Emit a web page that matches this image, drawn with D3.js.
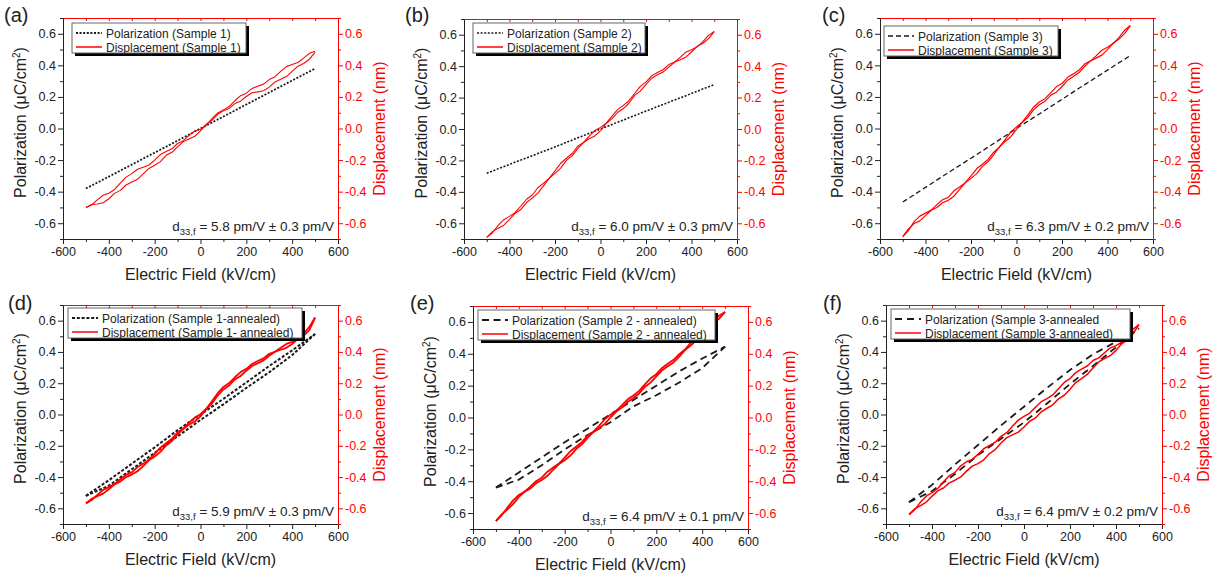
<!DOCTYPE html>
<html lang="en">
<head>
<meta charset="UTF-8">
<title>Polarization and displacement loops</title>
<script src="https://cdn.jsdelivr.net/npm/d3@7/dist/d3.min.js"></script>
<style>
body {margin:0; background:#fff;}
svg text {font-family: "Liberation Sans", Arial, sans-serif;}
</style>
</head>
<body>
<svg id="chart" width="1215" height="578"></svg>
<script>
// electric field sample points (kV/cm)
var fieldFine = [-500,-475,-450,-425,-400,-375,-350,-325,-300,-275,-250,-225,-200,-175,-150,-125,-100,-75,-50,-25,
                 0,25,50,75,100,125,150,175,200,225,250,275,300,325,350,375,400,425,450,475,500];
var fieldCoarse = [-500,-400,-300,-200,-100,0,100,200,300,400,500];

var xTicks = [-600,-400,-200,0,200,400,600];
var xMinor = [-500,-300,-100,100,300,500];
var yTicks = [-0.6,-0.4,-0.2,0.0,0.2,0.4,0.6];
var yMinor = [-0.7,-0.5,-0.3,-0.1,0.1,0.3,0.5,0.7];

var panelTags = ["(a)","(b)","(c)","(d)","(e)","(f)"];
var polLabels = ["Polarization (Sample 1)","Polarization (Sample 2)","Polarization (Sample 3)",
    "Polarization (Sample 1-annealed)","Polarization (Sample 2 - annealed)","Polarization (Sample 3-annealed"];
var dispLabels = ["Displacement (Sample 1)","Displacement (Sample 2)","Displacement (Sample 3)",
    "Displacement (Sample 1- annealed)","Displacement (Sample 2 - annealed)","Displacement (Sample 3-annealed)"];
var d33Values = ["5.8","6.0","6.3","5.9","6.4","6.4"];
var d33Errors = ["0.3","0.3","0.2","0.3","0.1","0.2"];

// displacement (nm) on fieldFine, rising and falling branch
var aDispUp   = [-0.500,-0.481,-0.478,-0.470,-0.445,-0.411,-0.392,-0.358,-0.339,-0.322,-0.288,-0.253,-0.233,-0.210,-0.170,-0.151,-0.116,-0.083,-0.066,-0.049,
                 -0.015,0.027,0.052,0.090,0.112,0.127,0.158,0.173,0.203,0.226,0.232,0.239,0.262,0.295,0.312,0.329,0.362,0.395,0.412,0.439,0.482];
var aDispDown = [-0.500,-0.484,-0.452,-0.423,-0.410,-0.386,-0.346,-0.308,-0.286,-0.258,-0.246,-0.231,-0.200,-0.165,-0.146,-0.129,-0.095,-0.077,-0.043,-0.016,
                 -0.005,0.021,0.062,0.098,0.118,0.139,0.176,0.208,0.224,0.254,0.268,0.281,0.310,0.328,0.362,0.392,0.405,0.418,0.446,0.476,0.490];
var bDispUp   = [-0.690,-0.653,-0.632,-0.612,-0.575,-0.536,-0.512,-0.468,-0.440,-0.408,-0.360,-0.313,-0.282,-0.249,-0.200,-0.171,-0.125,-0.086,-0.062,-0.044,
                 -0.010,0.035,0.064,0.105,0.130,0.164,0.214,0.241,0.284,0.323,0.345,0.362,0.394,0.425,0.440,0.457,0.490,0.526,0.546,0.575,0.620];
var bDispDown = [-0.690,-0.660,-0.614,-0.577,-0.556,-0.531,-0.490,-0.447,-0.420,-0.374,-0.344,-0.313,-0.266,-0.218,-0.186,-0.156,-0.110,-0.086,-0.046,-0.010,
                 0.010,0.037,0.080,0.123,0.150,0.180,0.226,0.271,0.300,0.338,0.360,0.377,0.410,0.425,0.456,0.489,0.505,0.523,0.556,0.596,0.620];
var cDispUp   = [-0.685,-0.636,-0.602,-0.585,-0.552,-0.518,-0.500,-0.470,-0.455,-0.429,-0.386,-0.343,-0.316,-0.286,-0.240,-0.211,-0.166,-0.116,-0.082,-0.052,
                 -0.006,0.040,0.070,0.118,0.150,0.172,0.210,0.230,0.266,0.306,0.330,0.354,0.394,0.428,0.446,0.465,0.500,0.541,0.566,0.601,0.652];
var cDispDown = [-0.685,-0.646,-0.590,-0.555,-0.536,-0.517,-0.482,-0.451,-0.436,-0.395,-0.370,-0.343,-0.300,-0.255,-0.226,-0.196,-0.150,-0.118,-0.070,-0.022,
                 0.010,0.040,0.086,0.135,0.168,0.189,0.226,0.264,0.285,0.324,0.346,0.370,0.410,0.427,0.460,0.496,0.515,0.538,0.576,0.622,0.652];
var dDispUp   = [-0.568,-0.539,-0.522,-0.506,-0.478,-0.447,-0.428,-0.400,-0.384,-0.363,-0.330,-0.293,-0.268,-0.239,-0.198,-0.169,-0.128,-0.091,-0.066,-0.045,
                 -0.012,0.035,0.070,0.121,0.160,0.186,0.224,0.246,0.280,0.310,0.328,0.346,0.376,0.401,0.414,0.426,0.450,0.483,0.504,0.540,0.620];
var dDispDown = [-0.568,-0.547,-0.514,-0.483,-0.464,-0.445,-0.414,-0.386,-0.370,-0.336,-0.314,-0.289,-0.252,-0.212,-0.184,-0.155,-0.114,-0.090,-0.054,-0.020,
                 0.002,0.037,0.084,0.136,0.176,0.201,0.238,0.271,0.292,0.323,0.342,0.359,0.388,0.401,0.426,0.451,0.464,0.484,0.516,0.560,0.620];
var eDispUp   = [-0.650,-0.608,-0.578,-0.544,-0.498,-0.466,-0.446,-0.413,-0.392,-0.366,-0.328,-0.292,-0.268,-0.239,-0.198,-0.169,-0.128,-0.092,-0.068,-0.040,
                 0.000,0.037,0.062,0.098,0.122,0.151,0.192,0.219,0.258,0.296,0.322,0.346,0.382,0.423,0.452,0.485,0.530,0.568,0.594,0.622,0.663];
var eDispDown = [-0.650,-0.614,-0.566,-0.520,-0.486,-0.466,-0.434,-0.400,-0.378,-0.340,-0.314,-0.289,-0.252,-0.212,-0.184,-0.155,-0.114,-0.089,-0.052,-0.011,
                 0.018,0.042,0.078,0.114,0.138,0.167,0.208,0.246,0.272,0.311,0.338,0.362,0.398,0.427,0.468,0.512,0.544,0.569,0.606,0.641,0.663];
var fDispUp   = [-0.640,-0.603,-0.582,-0.560,-0.522,-0.488,-0.470,-0.437,-0.420,-0.399,-0.362,-0.330,-0.314,-0.290,-0.250,-0.224,-0.182,-0.148,-0.130,-0.113,
                 -0.080,-0.043,-0.022,0.017,0.040,0.062,0.100,0.123,0.162,0.204,0.230,0.256,0.298,0.336,0.358,0.376,0.410,0.452,0.478,0.518,0.575];
var fDispDown = [-0.640,-0.608,-0.560,-0.522,-0.500,-0.473,-0.430,-0.392,-0.370,-0.328,-0.302,-0.287,-0.255,-0.219,-0.198,-0.177,-0.140,-0.116,-0.075,-0.036,
                 -0.012,0.009,0.046,0.082,0.102,0.125,0.164,0.205,0.230,0.268,0.290,0.310,0.345,0.362,0.395,0.426,0.440,0.462,0.500,0.546,0.575];

// polarization (uC/cm2) on fieldCoarse
var aPol = [-0.380,-0.305,-0.229,-0.153,-0.077,0.000,0.076,0.152,0.228,0.304,0.380];
var bPol = [-0.282,-0.225,-0.170,-0.114,-0.056,0.000,0.057,0.114,0.170,0.226,0.283];
var cPol = [-0.466,-0.373,-0.280,-0.188,-0.095,0.000,0.092,0.185,0.278,0.370,0.462];
var dPolUp   = [-0.520,-0.455,-0.350,-0.245,-0.140,-0.035,0.065,0.170,0.270,0.380,0.515];
var dPolDown = [-0.520,-0.420,-0.315,-0.210,-0.100,0.000,0.100,0.205,0.310,0.410,0.515];
var ePolUp   = [-0.440,-0.390,-0.300,-0.200,-0.110,-0.030,0.070,0.140,0.220,0.310,0.445];
var ePolDown = [-0.440,-0.345,-0.250,-0.155,-0.070,0.020,0.110,0.200,0.290,0.370,0.445];
var fPolUp   = [-0.560,-0.490,-0.380,-0.260,-0.155,-0.050,0.070,0.195,0.310,0.430,0.550];
var fPolDown = [-0.560,-0.450,-0.320,-0.195,-0.070,0.050,0.170,0.285,0.385,0.465,0.550];

var dispSeries = [[aDispUp,aDispDown],[bDispUp,bDispDown],[cDispUp,cDispDown],
                  [dDispUp,dDispDown],[eDispUp,eDispDown],[fDispUp,fDispDown]];
var polSeries = [[aPol],[bPol],[cPol],[dPolUp,dPolDown],[ePolUp,ePolDown],[fPolUp,fPolDown]];

// panel placement and line styles
var layout = [
  {x0:63, x1:338, y0:18, y1:239, tagX:4, tagY:22, legX:72, legY:23, legW:174, dash:"2,1.6", polW:1.8, dispW:1.1},
  {x0:464, x1:737, y0:19, y1:239, tagX:405, tagY:22, legX:473, legY:23, legW:172, dash:"2,1.6", polW:1.6, dispW:1.1},
  {x0:880, x1:1153, y0:18, y1:239, tagX:822, tagY:22, legX:884, legY:26, legW:174, dash:"5,3", polW:1.3, dispW:1.2},
  {x0:63, x1:338, y0:305, y1:524, tagX:8, tagY:310, legX:68, legY:308, legW:234, dash:"3,1.8", polW:2, dispW:1.8},
  {x0:473, x1:748, y0:306, y1:529, tagX:410, tagY:310, legX:478, legY:310, legW:237, dash:"7,4.5", polW:1.8, dispW:1.8},
  {x0:886, x1:1162, y0:305, y1:524, tagX:823, tagY:310, legX:891, legY:309, legW:239, dash:"7,5", polW:1.8, dispW:1.5}
];

var red = "#ff0000";
var ink = "#222";
var svg = d3.select("#chart");

function styleAxis(sel, color) {
    sel.attr("font-family", "'Liberation Sans', Arial, sans-serif").attr("font-size", "12.5px");
    sel.select(".domain").attr("stroke", color);
    sel.selectAll(".tick line").attr("stroke", color);
    sel.selectAll(".tick text").attr("fill", color);
}

layout.forEach(function(L, i) {
    var x = d3.scaleLinear().domain([-600, 600]).range([L.x0, L.x1]);
    var y = d3.scaleLinear().domain([-0.7, 0.7]).range([L.y1, L.y0]);
    var g = svg.append("g");

    // top frame (red, ticks pointing in)
    g.append("g").attr("transform", "translate(0," + L.y0 + ")")
        .call(d3.axisBottom(x).tickValues(xTicks.concat(xMinor)).tickSize(3).tickSizeOuter(0).tickFormat(""))
        .call(styleAxis, red);

    // bottom axis
    g.append("g").attr("transform", "translate(0," + L.y1 + ")")
        .call(d3.axisBottom(x).tickValues(xTicks).tickSize(5).tickSizeOuter(0).tickPadding(3).tickFormat(function(d) { return String(d); }))
        .call(styleAxis, ink);
    g.append("g").attr("transform", "translate(0," + L.y1 + ")")
        .call(d3.axisBottom(x).tickValues(xMinor).tickSize(3).tickFormat(""))
        .call(styleAxis, ink)
        .select(".domain").remove();

    // left axis
    g.append("g").attr("transform", "translate(" + L.x0 + ",0)")
        .call(d3.axisLeft(y).tickValues(yTicks).tickSize(5).tickSizeOuter(0).tickPadding(2).tickFormat(function(d) { return d.toFixed(1); }))
        .call(styleAxis, ink);
    g.append("g").attr("transform", "translate(" + L.x0 + ",0)")
        .call(d3.axisLeft(y).tickValues(yMinor).tickSize(3).tickFormat(""))
        .call(styleAxis, ink)
        .select(".domain").remove();

    // right axis (red)
    g.append("g").attr("transform", "translate(" + L.x1 + ",0)")
        .call(d3.axisRight(y).tickValues(yTicks).tickSize(5).tickSizeOuter(0).tickPadding(2).tickFormat(function(d) { return d.toFixed(1); }))
        .call(styleAxis, red);
    g.append("g").attr("transform", "translate(" + L.x1 + ",0)")
        .call(d3.axisRight(y).tickValues(yMinor).tickSize(3).tickFormat(""))
        .call(styleAxis, red)
        .select(".domain").remove();

    // polarization
    var polLine = d3.line().x(function(d, k) { return x(fieldCoarse[k]); }).y(function(d) { return y(d); });
    polSeries[i].forEach(function(s) {
        g.append("path").attr("d", polLine(s)).attr("fill", "none")
            .attr("stroke", "#1a1a1a").attr("stroke-width", L.polW).attr("stroke-dasharray", L.dash);
    });

    // displacement
    var dispLine = d3.line().x(function(d, k) { return x(fieldFine[k]); }).y(function(d) { return y(d); });
    dispSeries[i].forEach(function(s) {
        g.append("path").attr("d", dispLine(s)).attr("fill", "none")
            .attr("stroke", red).attr("stroke-width", L.dispW).attr("stroke-linejoin", "round");
    });

    // panel tag
    g.append("text").attr("x", L.tagX).attr("y", L.tagY).attr("font-size", "20px").attr("fill", ink).text(panelTags[i]);

    // axis titles
    g.append("text").attr("x", (L.x0 + L.x1) / 2).attr("y", L.y1 + 41)
        .attr("text-anchor", "middle").attr("font-size", "16px").attr("fill", ink)
        .text("Electric Field (kV/cm)");

    var yl = g.append("text")
        .attr("transform", "translate(" + (L.x0 - 37) + "," + ((L.y0 + L.y1) / 2 - 6) + ") rotate(-90)")
        .attr("text-anchor", "middle").attr("font-size", "16px").attr("fill", ink);
    yl.append("tspan").text("Polarization (\u03bcC/cm");
    yl.append("tspan").attr("font-size", "10px").attr("dy", -6).text("2");
    yl.append("tspan").attr("dy", 6).text(")");

    g.append("text")
        .attr("transform", "translate(" + (L.x1 + 47) + "," + ((L.y0 + L.y1) / 2) + ") rotate(-90)")
        .attr("text-anchor", "middle").attr("font-size", "16px").attr("fill", red)
        .text("Displacement (nm)");

    // d33 note
    var note = g.append("text").attr("x", L.x1 - 4).attr("y", L.y1 - 8)
        .attr("text-anchor", "end").attr("font-size", "13.5px").attr("fill", ink);
    note.append("tspan").text("d");
    note.append("tspan").attr("font-size", "9.5px").attr("dy", 4).text("33,f");
    note.append("tspan").attr("dy", -4).text(" = " + d33Values[i] + " pm/V \u00b1 " + d33Errors[i] + " pm/V");

    // legend
    var lg = g.append("g").attr("transform", "translate(" + L.legX + "," + L.legY + ")");
    lg.append("rect").attr("x", 3).attr("y", 3).attr("width", L.legW).attr("height", 30).attr("fill", "#000");
    lg.append("rect").attr("x", 0).attr("y", 0).attr("width", L.legW).attr("height", 30)
        .attr("fill", "#fff").attr("stroke", "#666").attr("stroke-width", 1);
    lg.append("line").attr("x1", 4).attr("x2", 30).attr("y1", 10).attr("y2", 10)
        .attr("stroke", "#1a1a1a").attr("stroke-width", L.polW).attr("stroke-dasharray", L.dash);
    lg.append("line").attr("x1", 4).attr("x2", 30).attr("y1", 24).attr("y2", 24)
        .attr("stroke", red).attr("stroke-width", 1.5);
    lg.append("text").attr("x", 34).attr("y", 14.5).attr("font-size", "12px").attr("fill", ink).text(polLabels[i]);
    lg.append("text").attr("x", 34).attr("y", 28.5).attr("font-size", "12px").attr("fill", ink).text(dispLabels[i]);
});
</script>
</body>
</html>
